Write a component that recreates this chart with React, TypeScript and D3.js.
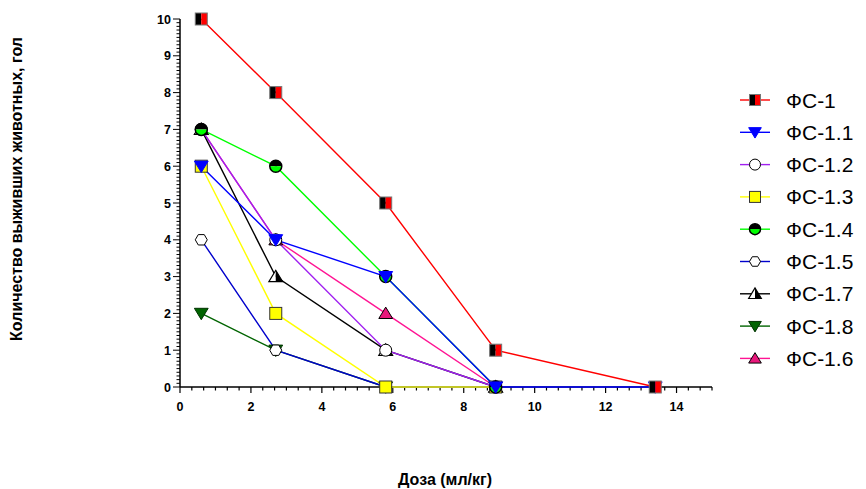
import React from "react";
import * as d3 from "d3";

const doses = [0.6, 2.7, 5.8, 8.9, 13.4];
const fs1 = [10, 8, 5, 1, 0];
const fs11 = [6, 4, 3, 0, 0];
const fs12 = [7, 4, 1, 0];
const fs13 = [6, 2, 0, 0];
const fs14 = [7, 6, 3, 0];
const fs15 = [4, 1, 0, 0];
const fs17 = [7, 3, 1, 0];
const fs18 = [2, 1, 0, 0];
const fs16 = [7, 4, 2, 0];
const seriesNames = ["ФС-1", "ФС-1.1", "ФС-1.2", "ФС-1.3", "ФС-1.4", "ФС-1.5", "ФС-1.7", "ФС-1.8", "ФС-1.6"];
const xTicks = [0, 2, 4, 6, 8, 10, 12, 14];
const yTicks = [0, 1, 2, 3, 4, 5, 6, 7, 8, 9, 10];
const xTitle = "Доза (мл/кг)";
const yTitle = "Количество выживших животных, гол";

type Kind = "sqHalf" | "triDownBlue" | "circleOpen" | "sqYellow" | "circleHalf" | "hexOpen" | "triHalf" | "triDownGreen" | "triPink";
const seriesDefs: { name: string; values: number[]; color: string; kind: Kind }[] = [
  { name: seriesNames[0], values: fs1, color: "#ff0000", kind: "sqHalf" },
  { name: seriesNames[1], values: fs11, color: "#0000ff", kind: "triDownBlue" },
  { name: seriesNames[2], values: fs12, color: "#a020f0", kind: "circleOpen" },
  { name: seriesNames[3], values: fs13, color: "#ffff00", kind: "sqYellow" },
  { name: seriesNames[4], values: fs14, color: "#00ff00", kind: "circleHalf" },
  { name: seriesNames[5], values: fs15, color: "#0000cc", kind: "hexOpen" },
  { name: seriesNames[6], values: fs17, color: "#000000", kind: "triHalf" },
  { name: seriesNames[7], values: fs18, color: "#006400", kind: "triDownGreen" },
  { name: seriesNames[8], values: fs16, color: "#ff1493", kind: "triPink" },
];

function Marker({ kind, x, y, s }: { kind: Kind; x: number; y: number; s: number }) {
  const h = s / 2;
  switch (kind) {
    case "sqHalf":
      return (
        <g>
          <rect x={x - h} y={y - h} width={h} height={s} fill="#000" />
          <rect x={x} y={y - h} width={h} height={s} fill="#ff0000" />
          <rect x={x - h} y={y - h} width={s} height={s} fill="none" stroke="#777" strokeWidth={1} />
        </g>
      );
    case "sqYellow":
      return <rect x={x - h} y={y - h} width={s} height={s} fill="#ffff00" stroke="#333" strokeWidth={1} />;
    case "triDownBlue":
    case "triDownGreen": {
      const t = h * 1.15;
      return (
        <path
          d={`M${x - t},${y - h * 0.85}L${x + t},${y - h * 0.85}L${x},${y + h * 1.05}Z`}
          fill={kind === "triDownBlue" ? "#0000ff" : "#006400"}
          stroke={kind === "triDownBlue" ? "#0000ff" : "#003300"}
          strokeWidth={1}
        />
      );
    }
    case "triPink": {
      const t = h * 1.15;
      return <path d={`M${x - t},${y + h * 0.85}L${x + t},${y + h * 0.85}L${x},${y - h * 1.05}Z`} fill="#e8177b" stroke="#000" strokeWidth={1} />;
    }
    case "triHalf": {
      const t = h * 1.15;
      return (
        <g>
          <path d={`M${x - t},${y + h * 0.85}L${x},${y + h * 0.85}L${x},${y - h * 1.05}Z`} fill="#fff" />
          <path d={`M${x},${y + h * 0.85}L${x + t},${y + h * 0.85}L${x},${y - h * 1.05}Z`} fill="#000" />
          <path d={`M${x - t},${y + h * 0.85}L${x + t},${y + h * 0.85}L${x},${y - h * 1.05}Z`} fill="none" stroke="#000" strokeWidth={1.2} />
        </g>
      );
    }
    case "circleOpen":
      return <circle cx={x} cy={y} r={h} fill="#fff" stroke="#000" strokeWidth={1} />;
    case "circleHalf":
      return (
        <g>
          <path d={`M${x - h},${y}A${h},${h} 0 0 1 ${x + h},${y}Z`} fill="#000" />
          <path d={`M${x - h},${y}A${h},${h} 0 0 0 ${x + h},${y}Z`} fill="#00ff00" />
          <circle cx={x} cy={y} r={h} fill="none" stroke="#000" strokeWidth={1.5} />
        </g>
      );
    case "hexOpen": {
      const pts = d3.range(6).map((i) => {
        const a = (Math.PI / 3) * i;
        return `${x + h * Math.cos(a)},${y + h * Math.sin(a)}`;
      });
      return <polygon points={pts.join(" ")} fill="#fff" stroke="#000" strokeWidth={1} />;
    }
  }
  return null;
}

export default function App() {
  const width = 866;
  const height = 489;
  const x = d3.scaleLinear().domain([0, 15]).range([180, 712]);
  const y = d3.scaleLinear().domain([0, 10]).range([387, 19]);
  const line = d3
    .line<[number, number]>()
    .x((d) => x(d[0]))
    .y((d) => y(d[1]));
  const xMinor = d3.range(0, 15.001, 1 / 3);
  const yMinor = d3.range(0, 10.001, 0.1);
  const drawOrder = [8, 7, 6, 5, 2, 3, 4, 1, 0];
  const lineOrder = [8, 7, 6, 5, 3, 4, 2, 1, 0];
  const legendY0 = 100;
  const legendStep = 32.3;
  const font = "'Liberation Sans', Arial, sans-serif";

  return (
    <svg width={width} height={height} style={{ position: "absolute", left: 0, top: 0, background: "#fff" }} fontFamily={font}>
      <rect width={width} height={height} fill="#fff" />
      {/* axes */}
      <line x1={x(0)} x2={x(15)} y1={y(0)} y2={y(0)} stroke="#000" strokeWidth={1.5} />
      <line x1={x(0)} x2={x(0)} y1={y(0)} y2={y(10)} stroke="#000" strokeWidth={1.5} />
      {xMinor.map((v, i) => (
        <line key={"xm" + i} x1={x(v)} x2={x(v)} y1={y(0)} y2={y(0) + (i % 6 === 0 ? 6 : 3.5)} stroke="#000" strokeWidth={1.2} />
      ))}
      {yMinor.map((v, i) => (
        <line key={"ym" + i} x1={x(0)} x2={x(0) - (i % 10 === 0 ? 7 : 3.5)} y1={y(v)} y2={y(v)} stroke="#000" strokeWidth={1} />
      ))}
      {xTicks.map((t) => (
        <text key={"xt" + t} x={x(t)} y={y(0) + 24} textAnchor="middle" fontSize={12.5} fontWeight="bold">
          {t}
        </text>
      ))}
      {yTicks.map((t) => (
        <text key={"yt" + t} x={x(0) - 9} y={y(t) + 4.5} textAnchor="end" fontSize={12.5} fontWeight="bold">
          {t}
        </text>
      ))}
      <text x={445} y={485} textAnchor="middle" fontSize={16} fontWeight="bold">
        {xTitle}
      </text>
      <text transform={`translate(22,189) rotate(-90)`} textAnchor="middle" fontSize={16} fontWeight="bold">
        {yTitle}
      </text>
      {/* lines */}
      {lineOrder.map((si) => {
        const s = seriesDefs[si];
        const pts = s.values.map((v, i) => [doses[i], v] as [number, number]);
        return <path key={"l" + si} d={line(pts) || ""} fill="none" stroke={s.color} strokeWidth={1.4} />;
      })}
      {/* markers */}
      {drawOrder.map((si) => {
        const s = seriesDefs[si];
        return (
          <g key={"m" + si}>
            {s.values.map((v, i) => (
              <Marker key={i} kind={s.kind} x={x(doses[i])} y={y(v)} s={12} />
            ))}
          </g>
        );
      })}
      {/* legend */}
      {seriesDefs.map((s, i) => {
        const ly = legendY0 + i * legendStep;
        return (
          <g key={"lg" + i}>
            <line x1={740} x2={770} y1={ly} y2={ly} stroke={s.color} strokeWidth={1.4} />
            <Marker kind={s.kind} x={755} y={ly} s={11} />
            <text x={786} y={ly + 7.5} fontSize={21}>
              {s.name}
            </text>
          </g>
        );
      })}
    </svg>
  );
}
